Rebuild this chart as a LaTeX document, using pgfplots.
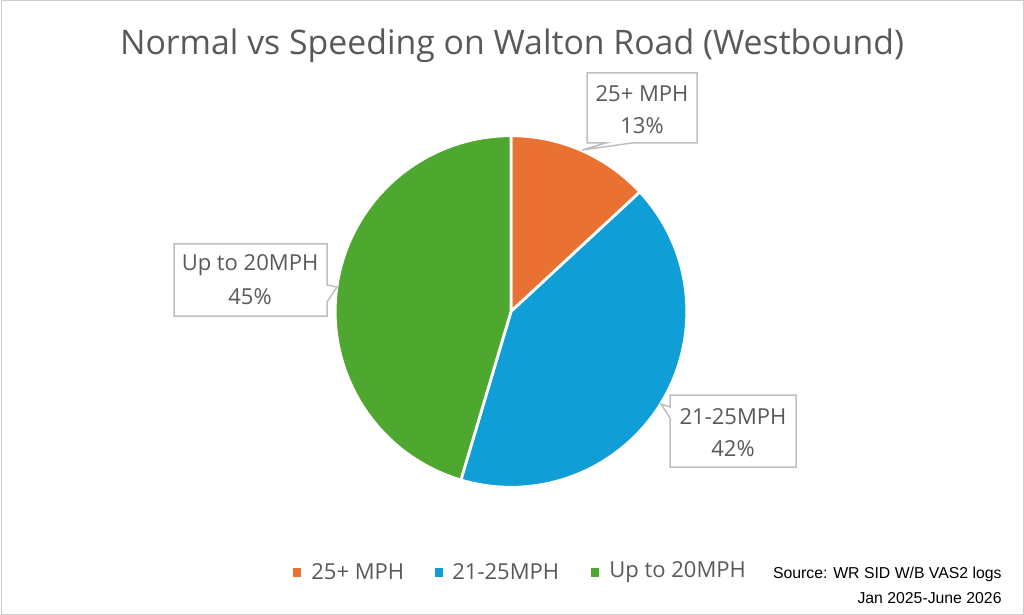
\documentclass[border=0pt]{standalone}
\usepackage{pgfplots}
\usepackage{pgfplotstable}
\pgfplotsset{compat=1.18}
\usepackage{fontspec}
\setmainfont{Open Sans}
\newfontfamily\srcfont{Liberation Sans}
\definecolor{cOrange}{HTML}{E97132}
\definecolor{cBlue}{HTML}{0F9ED5}
\definecolor{cGreen}{HTML}{4EA72E}
\definecolor{txt}{HTML}{595959}
\definecolor{cbord}{HTML}{BFBFBF}
\pgfplotstableread{
label pct
{25+ MPH} 13.1
{21-25MPH} 41.5
{Up to 20MPH} 45.4
}\piedata
\begin{document}
\begin{tikzpicture}
\pgfplotstablegetelem{0}{pct}\of\piedata \let\pA\pgfplotsretval
\pgfplotstablegetelem{1}{pct}\of\piedata \let\pB\pgfplotsretval
\pgfplotstablegetelem{2}{pct}\of\piedata \let\pC\pgfplotsretval
\pgfmathsetmacro\aA{90}
\pgfmathsetmacro\aB{\aA-3.6*\pA}
\pgfmathsetmacro\aC{\aB-3.6*\pB}
\pgfmathsetmacro\aD{\aC-3.6*\pC}
\begin{axis}[
  scale only axis, width=512pt, height=307.5pt,
  xmin=0, xmax=1024, ymin=0, ymax=615, y dir=reverse,
  hide axis, clip=false]
\path (axis cs:0,0) rectangle (axis cs:1024,615);
\draw[cbord!80, line width=0.5pt] (axis cs:1,1) rectangle (axis cs:1023,614);
% title
\node[text=txt, font=\fontsize{16.9}{20}\selectfont] at (axis cs:512,46) {Normal vs Speeding on Walton Road (Westbound)};
% pie
\fill[cOrange, draw=white, line width=1.4pt] (axis cs:511,311.5) -- ([shift={(\aA:87.9pt)}]axis cs:511,311.5) arc[start angle=\aA, end angle=\aB, radius=87.9pt] -- cycle;
\fill[cBlue, draw=white, line width=1.4pt] (axis cs:511,311.5) -- ([shift={(\aB:87.9pt)}]axis cs:511,311.5) arc[start angle=\aB, end angle=\aC, radius=87.9pt] -- cycle;
\fill[cGreen, draw=white, line width=1.4pt] (axis cs:511,311.5) -- ([shift={(\aC:87.9pt)}]axis cs:511,311.5) arc[start angle=\aC, end angle=\aD, radius=87.9pt] -- cycle;
% callouts
\filldraw[fill=white, draw=cbord, line width=0.75pt, line join=miter] (axis cs:587,73) -- (axis cs:697,73) -- (axis cs:697,143) -- (axis cs:632,143) -- (axis cs:582,150) -- (axis cs:606,143) -- (axis cs:587,143) -- cycle;
\filldraw[fill=white, draw=cbord, line width=0.75pt, line join=miter] (axis cs:174,244) -- (axis cs:327,244) -- (axis cs:327,285) -- (axis cs:337,287) -- (axis cs:327,302) -- (axis cs:327,316) -- (axis cs:174,316) -- cycle;
\filldraw[fill=white, draw=cbord, line width=0.75pt, line join=miter] (axis cs:670,395) -- (axis cs:796,395) -- (axis cs:796,467) -- (axis cs:670,467) -- (axis cs:670,418) -- (axis cs:661,404) -- (axis cs:670,407) -- cycle;
\node[text=txt, font=\fontsize{11}{13}\selectfont] at (axis cs:642,94) {25+ MPH};
\node[text=txt, font=\fontsize{11}{13}\selectfont] at (axis cs:642,126) {13\%};
\node[text=txt, font=\fontsize{11}{13}\selectfont] at (axis cs:250,265) {Up to 20MPH};
\node[text=txt, font=\fontsize{11}{13}\selectfont] at (axis cs:250,297) {45\%};
\node[text=txt, font=\fontsize{11}{13}\selectfont] at (axis cs:733,417) {21-25MPH};
\node[text=txt, font=\fontsize{11}{13}\selectfont] at (axis cs:733,449) {42\%};
% legend
\fill[cOrange] (axis cs:293,568) rectangle (axis cs:301,577);
\fill[cBlue] (axis cs:435,568) rectangle (axis cs:443,577);
\fill[cGreen] (axis cs:591,568) rectangle (axis cs:599,577);
\node[anchor=west, inner sep=0pt, text=txt, font=\fontsize{11}{13}\selectfont] at (axis cs:311,572) {25+ MPH};
\node[anchor=west, inner sep=0pt, text=txt, font=\fontsize{11}{13}\selectfont] at (axis cs:452,572) {21-25MPH};
\node[anchor=west, inner sep=0pt, text=txt, font=\fontsize{11}{13}\selectfont] at (axis cs:609,572) {Up to 20MPH};
\node[anchor=east, inner sep=0pt, align=right, text=black, font=\srcfont\fontsize{7.9}{12.5}\selectfont] at (axis cs:1002,585) {Source: WR SID W/B VAS2 logs\\Jan 2025-June 2026};
\end{axis}
\end{tikzpicture}
\end{document}
